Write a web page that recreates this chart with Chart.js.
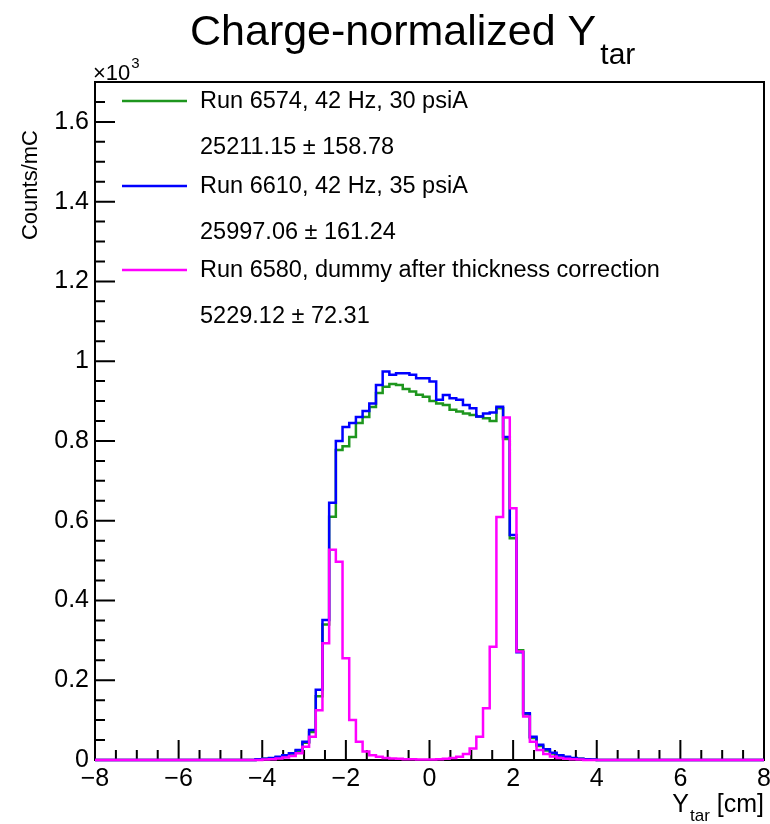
<!DOCTYPE html>
<html>
<head>
<meta charset="utf-8">
<script src="https://cdn.jsdelivr.net/npm/chart.js@4.4.1/dist/chart.umd.min.js"></script>
<style>
html, body { margin: 0; padding: 0; background: #fff; }
</style>
</head>
<body>
<canvas id="yTarGraph" width="770" height="824"></canvas>
<script>
// histogram binning: 100 bins from -8 to 8 cm
const binLow = -8;
const binWidth = 0.16;
const nBins = 100;

// counts/mC in units of 10^3, one value per bin
const run6574 = [
    0, 0, 0, 0, 0, 0, 0, 0, 0, 0,
    0, 0, 0, 0, 0, 0, 0, 0, 0, 0,
    0, 0, 0, 0, 0, 0.001, 0.003, 0.004, 0.007, 0.011,
    0.016, 0.023, 0.043, 0.070, 0.160, 0.340, 0.610, 0.777, 0.787, 0.810,
    0.845, 0.860, 0.885, 0.920, 0.936, 0.943, 0.940, 0.930, 0.924, 0.916,
    0.911, 0.900, 0.894, 0.890, 0.878, 0.874, 0.869, 0.865, 0.861, 0.857,
    0.850, 0.882, 0.805, 0.556, 0.275, 0.115, 0.055, 0.035, 0.024, 0.016,
    0.011, 0.007, 0.004, 0.003, 0.002, 0.001, 0, 0, 0, 0,
    0, 0, 0, 0, 0, 0, 0, 0, 0, 0,
    0, 0, 0, 0, 0, 0, 0, 0, 0, 0
];
const run6610 = [
    0, 0, 0, 0, 0, 0, 0, 0, 0, 0,
    0, 0, 0, 0, 0, 0, 0, 0, 0, 0,
    0, 0, 0, 0, 0, 0.002, 0.003, 0.005, 0.008, 0.012,
    0.017, 0.025, 0.046, 0.075, 0.176, 0.351, 0.645, 0.800, 0.835, 0.845,
    0.860, 0.875, 0.894, 0.940, 0.974, 0.966, 0.970, 0.970, 0.966, 0.957,
    0.957, 0.949, 0.903, 0.915, 0.907, 0.903, 0.890, 0.882, 0.861, 0.869,
    0.871, 0.886, 0.810, 0.564, 0.270, 0.117, 0.058, 0.038, 0.027, 0.018,
    0.012, 0.008, 0.005, 0.003, 0.002, 0.001, 0, 0, 0, 0,
    0, 0, 0, 0, 0, 0, 0, 0, 0, 0,
    0, 0, 0, 0, 0, 0, 0, 0, 0, 0
];
const run6580Dummy = [
    0, 0, 0, 0, 0, 0, 0, 0, 0, 0,
    0, 0, 0, 0, 0, 0, 0, 0, 0, 0,
    0, 0, 0, 0, 0, 0, 0.001, 0.002, 0.004, 0.006,
    0.010, 0.017, 0.033, 0.058, 0.125, 0.293, 0.527, 0.497, 0.255, 0.100,
    0.046, 0.021, 0.012, 0.008, 0.005, 0.004, 0.003, 0.002, 0.002, 0.001,
    0.001, 0.001, 0.002, 0.003, 0.005, 0.008, 0.015, 0.029, 0.058, 0.130,
    0.284, 0.609, 0.859, 0.631, 0.272, 0.109, 0.046, 0.025, 0.015, 0.009,
    0.005, 0.003, 0.002, 0.001, 0, 0, 0, 0, 0, 0,
    0, 0, 0, 0, 0, 0, 0, 0, 0, 0,
    0, 0, 0, 0, 0, 0, 0, 0, 0, 0
];

const seriesNames = [
    'Run 6574, 42 Hz, 30 psiA',
    'Run 6610, 42 Hz, 35 psiA',
    'Run 6580, dummy after thickness correction'
];
const seriesIntegrals = [
    '25211.15 \u00b1 158.78',
    '25997.06 \u00b1 161.24',
    '5229.12 \u00b1 72.31'
];
const seriesColors = ['#1e961e', '#0000ff', '#ff00ff'];

const xTickValues = [-8, -6, -4, -2, 0, 2, 4, 6, 8];
const xTickLabels = ['\u22128', '\u22126', '\u22124', '\u22122', '0', '2', '4', '6', '8'];
const yTickValues = [0, 0.2, 0.4, 0.6, 0.8, 1, 1.2, 1.4, 1.6];
const yTickLabels = ['0', '0.2', '0.4', '0.6', '0.8', '1', '1.2', '1.4', '1.6'];

const FONT = '"Liberation Sans", Arial, Helvetica, sans-serif';

function toSteps(values) {
    const pts = values.map((v, i) => ({ x: binLow + i * binWidth, y: v }));
    pts.push({ x: binLow + nBins * binWidth, y: values[values.length - 1] });
    return pts;
}

const rootFrame = {
    id: 'rootFrame',
    beforeDatasetsDraw(chart) {
        const ctx = chart.ctx;
        const a = chart.chartArea;
        const xs = chart.scales.x;
        const ys = chart.scales.y;
        ctx.save();
        ctx.strokeStyle = '#000';
        ctx.lineWidth = 2;
        ctx.beginPath();
        for (let i = 0; i <= 32; i++) {
            const px = xs.getPixelForValue(-8 + i * 0.5);
            const len = i % 4 === 0 ? 20 : 10;
            ctx.moveTo(px, a.bottom);
            ctx.lineTo(px, a.bottom - len);
        }
        for (let i = 0; i <= 34; i++) {
            const py = ys.getPixelForValue(i * 0.05);
            const len = i % 4 === 0 ? 20 : 10;
            ctx.moveTo(a.left, py);
            ctx.lineTo(a.left + len, py);
        }
        ctx.stroke();
        ctx.strokeRect(a.left, a.top, a.right - a.left, a.bottom - a.top);
        ctx.restore();
    },
    afterDraw(chart) {
        const ctx = chart.ctx;
        const a = chart.chartArea;
        ctx.save();
        ctx.fillStyle = '#000';
        ctx.textBaseline = 'alphabetic';

        // title
        ctx.font = '43px ' + FONT;
        ctx.textAlign = 'left';
        const t = 'Charge-normalized Y';
        ctx.fillText(t, 190, 45);
        const tw = ctx.measureText(t).width;
        ctx.font = '30px ' + FONT;
        ctx.fillText('tar', 190 + tw + 4, 64);

        // exponent
        ctx.font = '22px ' + FONT;
        ctx.fillText('\u00d710', a.left - 2, 80);
        const ew = ctx.measureText('\u00d710').width;
        ctx.font = '15px ' + FONT;
        ctx.fillText('3', a.left - 2 + ew + 1, 68);

        // y title
        ctx.save();
        ctx.translate(37, 130);
        ctx.rotate(-Math.PI / 2);
        ctx.font = '22px ' + FONT;
        ctx.textAlign = 'right';
        ctx.fillText('Counts/mC', 0, 0);
        ctx.restore();

        // x title
        ctx.font = '25px ' + FONT;
        ctx.textAlign = 'right';
        ctx.fillText(' [cm]', a.right, 812);
        const cw = ctx.measureText(' [cm]').width;
        ctx.font = '17px ' + FONT;
        ctx.fillText('tar', a.right - cw, 821);
        const sw = ctx.measureText('tar').width;
        ctx.font = '25px ' + FONT;
        ctx.fillText('Y', a.right - cw - sw - 1, 812);

        // legend
        const rows = [101, 186, 270];
        ctx.textAlign = 'left';
        ctx.textBaseline = 'middle';
        rows.forEach((y, i) => {
            ctx.strokeStyle = seriesColors[i];
            ctx.lineWidth = 2.5;
            ctx.beginPath();
            ctx.moveTo(122, y);
            ctx.lineTo(187, y);
            ctx.stroke();
            ctx.font = '23.5px ' + FONT;
            ctx.fillText(seriesNames[i], 200, y + 1);
            ctx.fillText(seriesIntegrals[i], 200, y + 47);
        });
        ctx.restore();
    }
};

const ctx = document.getElementById('yTarGraph').getContext('2d');
const allSeries = [run6574, run6610, run6580Dummy];

new Chart(ctx, {
    type: 'line',
    data: {
        datasets: allSeries.map((values, i) => ({
            label: seriesNames[i],
            data: toSteps(values),
            borderColor: seriesColors[i],
            borderWidth: 2.5,
            pointRadius: 0,
            fill: false,
            stepped: 'after',
            clip: false,
            order: 2 - i
        }))
    },
    options: {
        responsive: false,
        devicePixelRatio: 1,
        animation: false,
        events: [],
        layout: { padding: { top: 82, right: 6, left: 0, bottom: 0 } },
        scales: {
            x: {
                type: 'linear',
                min: -8,
                max: 8,
                afterBuildTicks: s => { s.ticks = xTickValues.map(v => ({ value: v })); },
                afterFit: s => { s.height = 64; s.paddingLeft = 0; s.paddingRight = 0; },
                ticks: {
                    callback: v => xTickLabels[xTickValues.indexOf(v)],
                    color: '#000',
                    font: { family: FONT, size: 25 },
                    padding: 4,
                    maxRotation: 0,
                    autoSkip: false
                },
                grid: { display: false, drawTicks: false },
                border: { display: false }
            },
            y: {
                type: 'linear',
                min: 0,
                max: 1.7,
                afterBuildTicks: s => { s.ticks = yTickValues.map(v => ({ value: v })); },
                afterFit: s => { s.width = 95; s.paddingTop = 0; s.paddingBottom = 0; },
                ticks: {
                    callback: v => yTickLabels[yTickValues.indexOf(v)],
                    color: '#000',
                    font: { family: FONT, size: 25 },
                    padding: 6,
                    autoSkip: false
                },
                grid: { display: false, drawTicks: false },
                border: { display: false }
            }
        },
        plugins: {
            legend: { display: false },
            tooltip: { enabled: false },
            title: { display: false }
        }
    },
    plugins: [rootFrame]
});
</script>
</body>
</html>
